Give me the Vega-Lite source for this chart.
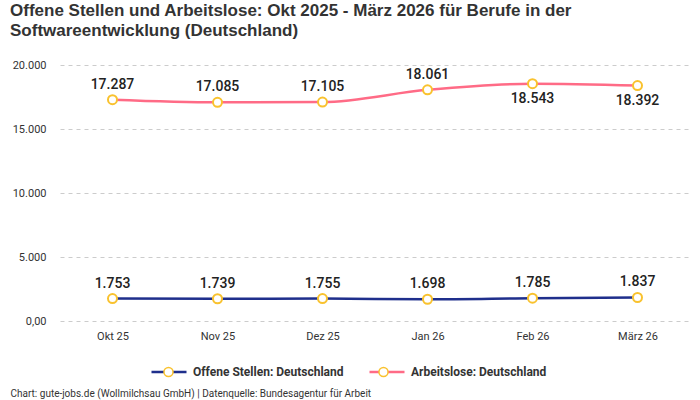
{
  "$schema": "https://vega.github.io/schema/vega-lite/v6.json",
  "width": 630,
  "height": 256,
  "padding": {"left": 10, "top": 2, "right": 10, "bottom": 5},
  "background": "white",
  "title": {
    "text": ["Offene Stellen und Arbeitslose: Okt 2025 - März 2026 für Berufe in der", "Softwareentwicklung (Deutschland)"],
    "anchor": "start",
    "frame": "bounds",
    "fontSize": 17,
    "fontWeight": "bold",
    "font": "Liberation Sans",
    "color": "#333333",
    "lineHeight": 20,
    "offset": 19
  },
  "data": {
    "values": [
      {"month": "Okt 25", "series": "Offene Stellen: Deutschland", "value": 1753},
      {"month": "Nov 25", "series": "Offene Stellen: Deutschland", "value": 1739},
      {"month": "Dez 25", "series": "Offene Stellen: Deutschland", "value": 1755},
      {"month": "Jan 26", "series": "Offene Stellen: Deutschland", "value": 1698},
      {"month": "Feb 26", "series": "Offene Stellen: Deutschland", "value": 1785},
      {"month": "März 26", "series": "Offene Stellen: Deutschland", "value": 1837},
      {"month": "Okt 25", "series": "Arbeitslose: Deutschland", "value": 17287},
      {"month": "Nov 25", "series": "Arbeitslose: Deutschland", "value": 17085},
      {"month": "Dez 25", "series": "Arbeitslose: Deutschland", "value": 17105},
      {"month": "Jan 26", "series": "Arbeitslose: Deutschland", "value": 18061},
      {"month": "Feb 26", "series": "Arbeitslose: Deutschland", "value": 18543},
      {"month": "März 26", "series": "Arbeitslose: Deutschland", "value": 18392}
    ]
  },
  "encoding": {
    "x": {
      "field": "month",
      "type": "ordinal",
      "sort": ["Okt 25", "Nov 25", "Dez 25", "Jan 26", "Feb 26", "März 26"],
      "scale": {"type": "point", "padding": 0.5},
      "axis": {
        "title": "Chart: gute-jobs.de (Wollmilchsau GmbH) | Datenquelle: Bundesagentur für Arbeit",
        "titleX": -50,
        "titleY": 72,
        "titleAlign": "left",
        "titleBaseline": "middle",
        "titleFontSize": 10,
        "titleFontWeight": "normal",
        "titleColor": "#333333",
        "labelAngle": 0,
        "labelPadding": 9,
        "ticks": false,
        "domain": false,
        "grid": false
      }
    },
    "y": {
      "field": "value",
      "type": "quantitative",
      "scale": {"domain": [0, 20000]},
      "axis": {
        "title": null,
        "format": ",.0f",
        "labelExpr": "datum.value == 0 ? '0,00' : datum.label",
        "values": [0, 5000, 10000, 15000, 20000],
        "ticks": false,
        "domain": false,
        "labelPadding": 14,
        "gridDash": [4, 4],
        "gridColor": "#cccccc"
      }
    }
  },
  "layer": [
    {
      "mark": {"type": "line", "interpolate": "monotone", "strokeWidth": 2.5},
      "encoding": {
        "color": {
          "field": "series",
          "type": "nominal",
          "scale": {
            "domain": ["Offene Stellen: Deutschland", "Arbeitslose: Deutschland"],
            "range": ["#1f2f8c", "#ff6b86"]
          },
          "legend": {
            "orient": "none",
            "legendX": 90,
            "legendY": 288,
            "direction": "horizontal",
            "title": null,
            "symbolType": "stroke",
            "symbolSize": 1225,
            "symbolStrokeWidth": 2.5,
            "labelFontSize": 12,
            "labelFontWeight": "bold",
            "labelColor": "#333333",
            "labelOffset": 5,
            "columnPadding": 20
          }
        }
      }
    },
    {
      "mark": {"type": "point", "filled": true, "fill": "#ffffff", "stroke": "#f9c22e", "strokeWidth": 2, "size": 1200, "opacity": 1},
      "encoding": {
        "shape": {
          "field": "series",
          "type": "nominal",
          "sort": "descending",
          "scale": {
            "range": ["M-1,0M1,0M-0.26,0A0.26,0.26,0,1,1,0.26,0A0.26,0.26,0,1,1,-0.26,0Z", "M-1,0M1,0M-0.26,0A0.26,0.26,0,1,1,0.26,0A0.26,0.26,0,1,1,-0.26,0Z"]
          },
          "legend": {
            "orient": "none",
            "legendX": 90,
            "legendY": 288,
            "direction": "horizontal",
            "title": null,
            "symbolSize": 1225,
            "labelExpr": "''",
            "labelFontSize": 12,
            "labelOffset": 5,
            "columnPadding": 171,
            "encode": {
              "symbols": {
                "update": {
                  "fill": {"value": "#ffffff"},
                  "stroke": {"value": "#f9c22e"},
                  "strokeWidth": {"value": 2},
                  "opacity": {"value": 1}
                }
              }
            }
          }
        }
      }
    },
    {
      "transform": [{"filter": "datum.series == 'Offene Stellen: Deutschland' || datum.month == 'Okt 25' || datum.month == 'Nov 25' || datum.month == 'Dez 25' || datum.month == 'Jan 26'"}],
      "mark": {"type": "text", "dy": -15, "fontSize": 14, "fontWeight": 500, "font": "Roboto", "color": "#222222"},
      "encoding": {"text": {"field": "value", "type": "quantitative", "format": ",.0f"}}
    },
    {
      "transform": [{"filter": "datum.series == 'Arbeitslose: Deutschland' && (datum.month == 'Feb 26' || datum.month == 'März 26')"}],
      "mark": {"type": "text", "dy": 15, "fontSize": 14, "fontWeight": 500, "font": "Roboto", "color": "#222222"},
      "encoding": {"text": {"field": "value", "type": "quantitative", "format": ",.0f"}}
    }
  ],
  "config": {
    "locale": {
      "number": {"decimal": ",", "thousands": ".", "grouping": [3], "currency": ["", " €"]}
    },
    "font": "Roboto",
    "view": {"stroke": null},
    "axis": {"labelFontSize": 11, "labelColor": "#333333", "labelFont": "Roboto"},
    "legend": {"labelFont": "Roboto"}
  }
}
